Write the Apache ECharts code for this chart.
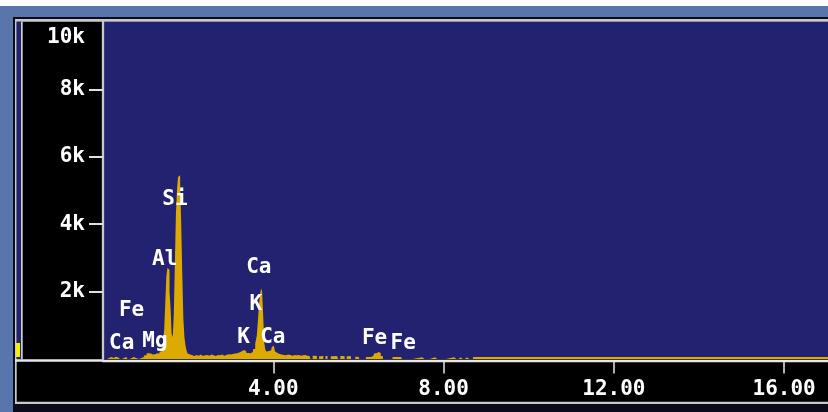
<!DOCTYPE html>
<html>
<head>
<meta charset="utf-8">
<script src="https://cdn.jsdelivr.net/npm/echarts@6/dist/echarts.min.js"></script>
<style>
html,body{margin:0;padding:0;background:#ffffff;}
#chart{width:828px;height:412px;}
</style>
</head>
<body>
<div id="chart"></div>
<script>
// ---- data ----
const energyKeV = [
  0.00,0.10,0.15,0.20,0.25,0.30,0.35,0.40,0.50,0.55,0.60,0.65,0.70,0.75,0.80,0.90,0.95,
  1.00,1.05,1.10,1.15,1.20,1.25,1.30,1.35,1.40,1.425,1.45,1.475,1.50,1.525,1.55,1.575,
  1.60,1.625,1.65,1.675,1.70,1.725,1.75,1.775,1.80,1.825,1.85,1.875,1.90,1.925,1.95,1.975,
  2.00,2.05,2.10,2.15,2.20,2.25,2.30,2.35,2.40,2.45,2.50,2.55,2.60,2.65,2.70,2.75,2.80,
  2.85,2.90,2.95,3.00,3.05,3.10,3.15,3.20,3.25,3.30,3.35,3.40,3.45,3.50,3.55,3.60,3.625,
  3.65,3.675,3.70,3.725,3.75,3.775,3.80,3.825,3.85,3.90,3.95,3.975,4.00,4.025,4.05,4.10,
  4.15,4.20,4.25,4.30,4.35,4.40,4.45,4.50,4.55,4.60,4.65,4.70,4.75,4.80,4.85,4.90,4.95,
  5.00,5.05,5.10,5.15,5.20,5.25,5.30,5.40,5.45,5.50,5.55,5.60,5.65,5.70,5.75,5.80,5.85,
  6.00,6.05,6.30,6.35,6.40,6.45,6.50,6.55,6.60,7.00,7.05,7.50,7.55,7.80,7.85,8.25,8.30,
  8.40,8.45,8.55,8.60,8.78,20.0
];
const countsCps = [
  0,0,40,60,30,70,50,0,40,60,0,30,60,30,0,30,50,
  110,170,160,130,140,170,160,220,350,500,900,1650,2450,2700,2650,2000,
  1500,750,650,1300,2800,4300,5000,5400,5450,5200,4000,2500,1200,650,400,250,
  160,130,110,90,120,100,130,90,110,120,100,130,110,90,120,110,130,
  100,120,140,130,150,160,170,190,220,260,250,180,170,220,300,450,700,
  1100,1600,1900,2100,2000,1300,500,280,220,240,260,350,400,360,230,180,
  150,130,120,110,130,120,100,120,110,120,100,110,120,100,90,0,100,
  90,0,80,100,0,90,0,80,90,80,0,90,80,0,80,90,0,
  70,0,60,100,170,210,180,90,0,60,0,50,0,50,0,50,0,
  50,0,50,0,60,60
];
// element annotations (label, energy keV, counts at label centre)
const peakNames    = ['Si','Al','Ca','K','Fe','Ca','Mg','K','Ca','Fe','Fe'];
const peakEnergies = [1.69,1.45,3.66,3.59,0.67,0.44,1.22,3.30,3.99,6.38,7.05];
const peakLabelAt  = [4720,2960,2700,1620,1440,460,530,650,640,620,445];
// axis ticks
const xTickValues = [4,8,12,16];
const xTickLabels = ['4.00','8.00','12.00','16.00'];
const yTickValues = [2000,4000,6000,8000,10000];
const yTickLabels = ['2k','4k','6k','8k','10k'];

// ---- chart ----
const FONT = 'DejaVu Sans Mono';
const NAVY = '#222270';
const GOLD = '#dcaa00';
const chart = echarts.init(document.getElementById('chart'), null, {renderer:'canvas'});

const spectrum = energyKeV.map((e,i)=>[e, countsCps[i]]);
const labels = peakNames.map((n,i)=>({name:n, value:[peakEnergies[i], peakLabelAt[i]]}));

const bg = (x,y,w,h,fill,z)=>({type:'rect', z:z, silent:true, shape:{x:x,y:y,width:w,height:h}, style:{fill:fill}});

chart.setOption({
  animation:false,
  backgroundColor:'#ffffff',
  graphic:{elements:[
    bg(0,6,828,406,'#5875ac',-20),
    bg(13,17,815,395,'#0c0c16',-19),
    bg(15,19,813,385,'#c8c8d0',-18),
    bg(16.7,21.7,811.3,380,'#000000',-17),
    bg(16.7,21.7,4.3,337.6,NAVY,-16),
    bg(21,21.7,1.7,337.6,'#d0d0d0',-16),
    bg(15,359.3,88,2.4,'#e8e8e8',-16),
    bg(16,343,4,14,'#f0f000',-15)
  ]},
  grid:{left:103, top:22, right:0, height:337, show:true, backgroundColor:NAVY, borderWidth:0},
  xAxis:{
    type:'value', min:0, max:17.03, interval:4, offset:1.5,
    axisLine:{show:true, onZero:false, lineStyle:{color:'#e8e8e8', width:2.4}},
    axisTick:{show:true, customValues:xTickValues, length:13, lineStyle:{color:'#e8e8e8', width:1.5}},
    axisLabel:{customValues:xTickValues, formatter:v=>xTickLabels[xTickValues.indexOf(v)] || '',
      color:'#ffffff', fontFamily:FONT, fontWeight:'bold', fontSize:21, margin:19},
    splitLine:{show:false}
  },
  yAxis:{
    type:'value', min:0, max:10000, interval:2000,
    axisLine:{show:true, lineStyle:{color:'#c8c8c8', width:2.3}},
    axisTick:{show:true, customValues:yTickValues.slice(0,-1), length:14, lineStyle:{color:'#e0e0e0', width:2}},
    axisLabel:{customValues:yTickValues,
      formatter:v=>{const i=yTickValues.indexOf(v); if(i<0) return ''; return v===10000 ? '{top|'+yTickLabels[i]+'}' : yTickLabels[i];},
      color:'#ffffff', fontFamily:FONT, fontWeight:'bold', fontSize:21, margin:18,
      rich:{top:{padding:[32,0,0,0], color:'#ffffff', fontFamily:FONT, fontWeight:'bold', fontSize:21}}},
    splitLine:{show:false}
  },
  series:[
    {
      type:'line', data:spectrum, step:'middle', symbol:'none', silent:true,
      lineStyle:{width:0, color:GOLD}, areaStyle:{color:GOLD, opacity:1}, itemStyle:{color:GOLD}, z:2
    },
    {
      type:'scatter', data:labels, symbol:'circle', symbolSize:1, silent:true,
      itemStyle:{color:NAVY, opacity:1},
      label:{show:true, position:'inside', formatter:'{b}', color:'#ffffff', opacity:1,
        textBorderWidth:0, fontFamily:FONT, fontWeight:'bold', fontSize:21},
      z:5
    }
  ]
});
</script>
</body>
</html>
